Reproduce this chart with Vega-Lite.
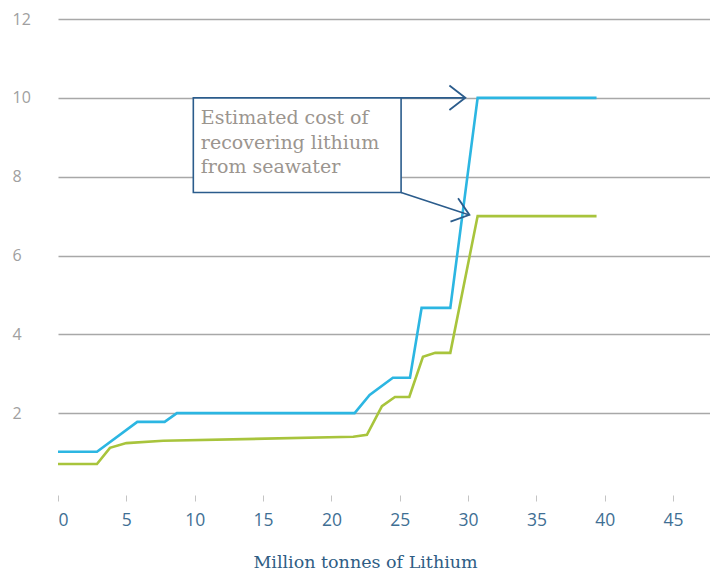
{
  "$schema": "https://vega.github.io/schema/vega-lite/v6.json",
  "width": 652,
  "height": 473,
  "autosize": {"type": "none"},
  "padding": {"left": 58, "top": 19, "right": 0, "bottom": 80},
  "background": "white",
  "config": {"view": {"stroke": null}},
  "datasets": {
    "lines": [
      {"series": "high", "t": 0, "cost": 1.02},
      {"series": "high", "t": 2.85, "cost": 1.02},
      {"series": "high", "t": 5.8, "cost": 1.78},
      {"series": "high", "t": 7.8, "cost": 1.78},
      {"series": "high", "t": 8.7, "cost": 2.0},
      {"series": "high", "t": 21.7, "cost": 2.0},
      {"series": "high", "t": 22.8, "cost": 2.46},
      {"series": "high", "t": 24.5, "cost": 2.9},
      {"series": "high", "t": 25.75, "cost": 2.9},
      {"series": "high", "t": 26.6, "cost": 4.67},
      {"series": "high", "t": 28.7, "cost": 4.67},
      {"series": "high", "t": 30.7, "cost": 10.0},
      {"series": "high", "t": 39.4, "cost": 10.0},
      {"series": "low", "t": 0, "cost": 0.71},
      {"series": "low", "t": 2.85, "cost": 0.71},
      {"series": "low", "t": 3.8, "cost": 1.12},
      {"series": "low", "t": 5.0, "cost": 1.24},
      {"series": "low", "t": 7.7, "cost": 1.3},
      {"series": "low", "t": 21.6, "cost": 1.4},
      {"series": "low", "t": 22.6, "cost": 1.45},
      {"series": "low", "t": 23.7, "cost": 2.18},
      {"series": "low", "t": 24.65, "cost": 2.41},
      {"series": "low", "t": 25.7, "cost": 2.41},
      {"series": "low", "t": 26.7, "cost": 3.43},
      {"series": "low", "t": 27.6, "cost": 3.53},
      {"series": "low", "t": 28.7, "cost": 3.53},
      {"series": "low", "t": 30.7, "cost": 7.0},
      {"series": "low", "t": 39.4, "cost": 7.0}
    ],
    "box": [{"x": 9.9, "x2": 25.1, "y": 10.0, "y2": 7.6}],
    "arrows": [
      {"id": "a", "x": 25.1, "y": 10.0, "x2": 29.8, "y2": 10.0},
      {"id": "b", "x": 25.1, "y": 7.6, "x2": 30.1, "y2": 7.03}
    ],
    "note": [{"x": 10.45, "y": 9.71, "text": "Estimated cost of\nrecovering lithium\nfrom seawater"}]
  },
  "layer": [
    {
      "data": {"name": "lines"},
      "mark": {"type": "line", "strokeWidth": 2.6, "strokeJoin": "miter"},
      "encoding": {
        "x": {
          "field": "t", "type": "quantitative",
          "scale": {"domain": [0, 47.7], "nice": false, "zero": false},
          "axis": {
            "values": [0, 5, 10, 15, 20, 25, 30, 35, 40, 45],
            "title": "Million tonnes of Lithium",
            "titleX": 307, "titleAnchor": "middle", "titleAlign": "center",
            "offset": 3,
            "domain": false, "grid": false,
            "ticks": true, "tickSize": 6, "tickColor": "#c4c4c4", "tickWidth": 1,
            "labelFont": "Open Sans", "labelFontSize": 17.5, "labelColor": "#3f6f94",
            "labelPadding": 10,
            "titleFont": "DejaVu Serif", "titleFontSize": 17.5, "titleFontWeight": "normal",
            "titleColor": "#2f5d84", "titlePadding": 25
          }
        },
        "y": {
          "field": "cost", "type": "quantitative",
          "scale": {"domain": [0, 12], "nice": false},
          "axis": {
            "values": [2, 4, 6, 8, 10, 12],
            "title": null, "domain": false, "ticks": false,
            "grid": true, "gridColor": "#a8a8a8", "gridWidth": 1.6,
            "labelFont": "Open Sans", "labelFontSize": 16, "labelColor": "#a0a0a0",
            "labelAlign": "left", "labelPadding": 46
          }
        },
        "color": {
          "field": "series", "type": "nominal",
          "scale": {"domain": ["high", "low"], "range": ["#2cb6e2", "#a8c43c"]},
          "legend": null
        }
      }
    },
    {
      "data": {"name": "box"},
      "mark": {"type": "rect", "fill": "white", "stroke": "#2b5c8c", "strokeWidth": 1.6},
      "encoding": {
        "x": {"field": "x", "type": "quantitative"},
        "x2": {"field": "x2"},
        "y": {"field": "y", "type": "quantitative"},
        "y2": {"field": "y2"}
      }
    },
    {
      "data": {"name": "arrows"},
      "mark": {"type": "rule", "stroke": "#2b5c8c", "strokeWidth": 1.6},
      "encoding": {
        "x": {"field": "x", "type": "quantitative"},
        "x2": {"field": "x2"},
        "y": {"field": "y", "type": "quantitative"},
        "y2": {"field": "y2"}
      }
    },
    {
      "data": {"name": "arrows"},
      "transform": [{"filter": "datum.id == 'a'"}],
      "mark": {"type": "point", "shape": "M-1.3,-1L0,0L-1.3,1", "filled": false, "stroke": "#2b5c8c", "strokeWidth": 1.8, "size": 600, "opacity": 1},
      "encoding": {
        "x": {"field": "x2", "type": "quantitative"},
        "y": {"field": "y2", "type": "quantitative"}
      }
    },
    {
      "data": {"name": "arrows"},
      "transform": [{"filter": "datum.id == 'b'"}],
      "mark": {"type": "point", "shape": "M-1.3,-1L0,0L-1.3,1", "filled": false, "stroke": "#2b5c8c", "strokeWidth": 1.8, "size": 600, "angle": 18, "opacity": 1},
      "encoding": {
        "x": {"field": "x2", "type": "quantitative"},
        "y": {"field": "y2", "type": "quantitative"}
      }
    },
    {
      "data": {"name": "note"},
      "mark": {"type": "text", "align": "left", "baseline": "top", "lineBreak": "\n", "lineHeight": 24.5, "font": "DejaVu Serif", "fontSize": 19, "fill": "#9b958f"},
      "encoding": {
        "x": {"field": "x", "type": "quantitative"},
        "y": {"field": "y", "type": "quantitative"},
        "text": {"field": "text"}
      }
    }
  ]
}
